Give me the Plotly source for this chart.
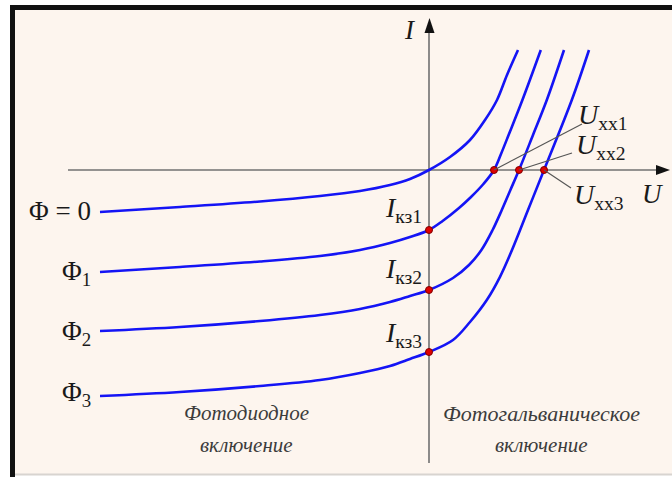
import plotly.graph_objects as go

# ---- data (U, I in arbitrary units) ----
u0 = [-16.45, -12.45, -8.45, -5.45, -3.45, -1.95, -0.95, 0.0, 1.05, 2.05, 2.8, 3.4, 3.9, 4.45]
i0 = [-2.1, -1.85, -1.575, -1.3, -1.05, -0.75, -0.45, 0.0, 0.65, 1.5, 2.5, 3.5, 4.75, 6.0]

u1 = [-16.45, -12.45, -8.45, -5.45, -3.45, -1.95, -0.95, 0.0, 0.68, 1.5, 2.1, 2.72, 3.25, 3.6, 3.98, 4.67, 5.59]
i1 = [-5.1, -4.85, -4.575, -4.3, -4.0, -3.65, -3.35, -3.0, -2.55, -1.9, -1.35, -0.7, 0.0, 0.8, 1.75, 3.5, 6.0]

u2 = [-16.45, -12.45, -8.45, -5.45, -3.45, -1.95, -0.95, 0.0, 1.2, 2.0, 2.62, 3.18, 3.64, 4.07, 4.5, 5.2, 5.89, 6.75]
i2 = [-8.05, -7.85, -7.55, -7.25, -6.95, -6.6, -6.3, -6.0, -5.4, -4.75, -4.0, -3.0, -2.0, -1.0, 0.0, 1.75, 3.5, 6.0]

u3 = [-16.45, -12.45, -8.45, -5.45, -3.45, -1.95, -0.95, 0.0, 1.2, 2.05, 2.89, 3.55, 4.15, 4.95, 5.75, 7.14, 8.0]
i3 = [-11.3, -11.1, -10.8, -10.5, -10.15, -9.8, -9.45, -9.1, -8.5, -7.6, -6.5, -5.34, -4.0, -2.0, 0.0, 3.5, 6.0]

u_oc = [3.25, 4.5, 5.75]          # U_xx1..3
i_sc = [-3.0, -6.0, -9.1]          # I_kz1..3

# ---- pixel <-> data mapping (figure is 672x477, no margins) ----
W, H = 672, 477
X0, Y0, S = 429, 170, 20.0         # origin pixel, pixels per unit


def dx(px):
    return (px - X0) / S


def dy(py):
    return (Y0 - py) / S


def pxp(px):
    return px / W


def pyp(py):
    return 1 - py / H


BLUE = "#1414f5"
SERIF = "Liberation Serif, Times New Roman, serif"
fig = go.Figure()

# frame
shapes = [
    dict(type="rect", xref="paper", yref="paper", x0=pxp(12), x1=pxp(700), y0=pyp(474), y1=pyp(7),
         fillcolor="#fdf5ee", line=dict(width=0), layer="below"),
    dict(type="line", xref="paper", yref="paper", x0=pxp(12.5), x1=pxp(12.5), y0=pyp(5), y1=pyp(480),
         line=dict(color="#111111", width=5), layer="below"),
    dict(type="line", xref="paper", yref="paper", x0=pxp(10), x1=pxp(680), y0=pyp(7.5), y1=pyp(7.5),
         line=dict(color="#111111", width=5), layer="below"),
    dict(type="line", xref="paper", yref="paper", x0=pxp(15), x1=pxp(680), y0=pyp(474.5), y1=pyp(474.5),
         line=dict(color="#d8d4d0", width=2), layer="below"),
    # axes
    dict(type="line", xref="x", yref="y", x0=dx(68), x1=dx(660), y0=0, y1=0,
         line=dict(color="#707070", width=1.6), layer="below"),
    dict(type="line", xref="x", yref="y", x0=0, x1=0, y0=dy(463), y1=dy(28),
         line=dict(color="#707070", width=1.6), layer="below"),
    # arrow heads
    dict(type="path", xref="paper", yref="paper",
         path=f"M {pxp(670)} {pyp(170)} L {pxp(656)} {pyp(165)} L {pxp(656)} {pyp(175)} Z",
         fillcolor="#111111", line=dict(width=0)),
    dict(type="path", xref="paper", yref="paper",
         path=f"M {pxp(429.5)} {pyp(18)} L {pxp(424.5)} {pyp(33)} L {pxp(434.5)} {pyp(33)} Z",
         fillcolor="#111111", line=dict(width=0)),
    # leader lines
    dict(type="line", xref="x", yref="y", x0=u_oc[0], y0=0, x1=dx(582), y1=dy(124),
         line=dict(color="#555555", width=1.2)),
    dict(type="line", xref="x", yref="y", x0=u_oc[1], y0=0, x1=dx(572), y1=dy(153),
         line=dict(color="#555555", width=1.2)),
    dict(type="line", xref="x", yref="y", x0=u_oc[2], y0=0, x1=dx(571), y1=dy(188),
         line=dict(color="#555555", width=1.2)),
]

for u, i in [(u0, i0), (u1, i1), (u2, i2), (u3, i3)]:
    fig.add_trace(go.Scatter(x=u, y=i, mode="lines", line=dict(color=BLUE, width=2.6, shape="spline", smoothing=1.0),
                             hoverinfo="skip", showlegend=False))

fig.add_trace(go.Scatter(x=u_oc + [0, 0, 0], y=[0, 0, 0] + i_sc, mode="markers",
                         marker=dict(color="#e00000", size=7, line=dict(color="#800000", width=1)),
                         hoverinfo="skip", showlegend=False))

ann = []


def txt(text, px, py, size, xanchor="center", color="#1a1a1a", italic=False):
    t = f"<i>{text}</i>" if italic else text
    ann.append(dict(text=t, x=dx(px), y=dy(py), xref="x", yref="y", showarrow=False,
                    xanchor=xanchor, yanchor="middle",
                    font=dict(family=SERIF, size=size, color=color)))


txt("<i>I</i>", 410, 30, 27)
txt("<i>U</i>", 652, 194, 27)
txt("Φ = 0", 93, 211, 27, xanchor="right")
txt("Φ<sub>1</sub>", 93, 273, 27, xanchor="right")
txt("Φ<sub>2</sub>", 93, 333, 27, xanchor="right")
txt("Φ<sub>3</sub>", 93, 394, 27, xanchor="right")
txt("<i>I</i><sub>кз1</sub>", 424, 209, 28, xanchor="right")
txt("<i>I</i><sub>кз2</sub>", 424, 270, 28, xanchor="right")
txt("<i>I</i><sub>кз3</sub>", 424, 334, 28, xanchor="right")
txt("<i>U</i><sub>xx1</sub>", 576, 116, 28, xanchor="left")
txt("<i>U</i><sub>xx2</sub>", 574, 146, 28, xanchor="left")
txt("<i>U</i><sub>xx3</sub>", 572, 196, 28, xanchor="left")
txt("Фотодиодное", 246, 413, 21, color="#3c3c3c", italic=True)
txt("включение", 246, 445, 21, color="#3c3c3c", italic=True)
txt("Фотогальваническое", 541, 413, 22, color="#3c3c3c", italic=True)
txt("включение", 541, 445, 21, color="#3c3c3c", italic=True)

fig.update_layout(
    width=W, height=H, margin=dict(l=0, r=0, t=0, b=0),
    paper_bgcolor="white", plot_bgcolor="rgba(0,0,0,0)",
    xaxis=dict(range=[dx(0), dx(W)], visible=False, fixedrange=True),
    yaxis=dict(range=[dy(H), dy(0)], visible=False, fixedrange=True),
    shapes=shapes, annotations=ann,
)

fig.write_html("out.html", config={"displayModeBar": False},
               post_script="document.body.style.margin='0';document.body.style.overflow='hidden';")
